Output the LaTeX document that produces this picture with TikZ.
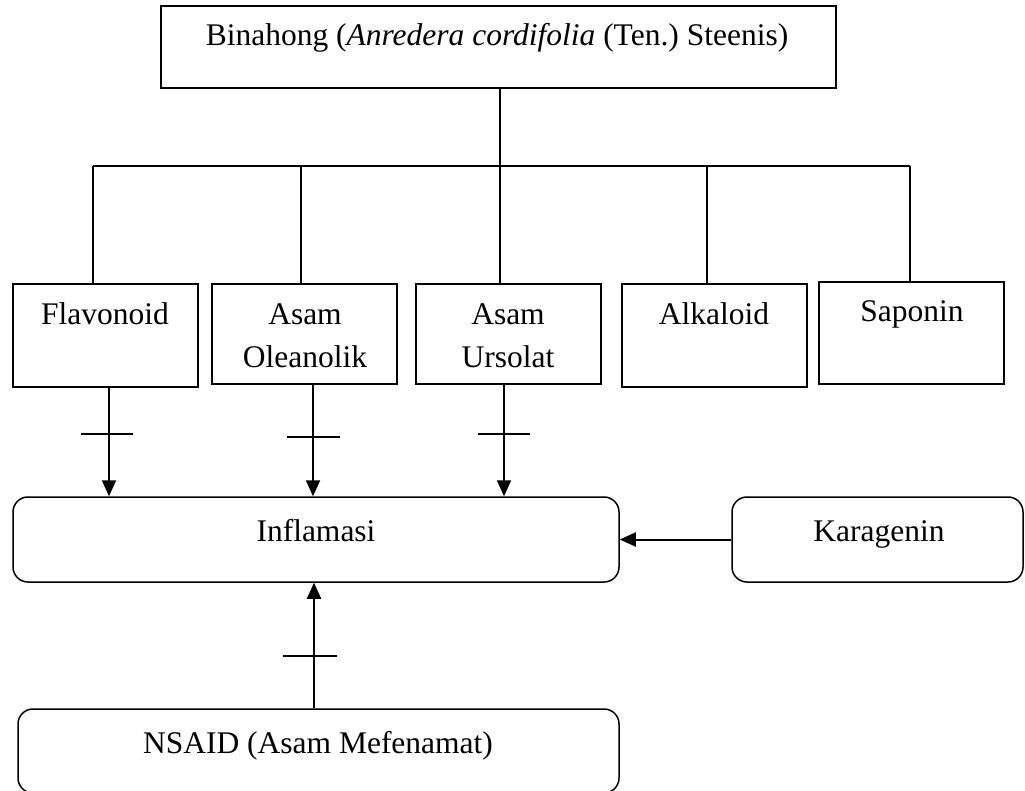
\documentclass[tikz,border=0pt]{standalone}
\usepackage{fontspec}
\setmainfont{Liberation Serif}
\usetikzlibrary{arrows.meta,calc}
\begin{document}
\frenchspacing
\begin{tikzpicture}[x=1pt,y=-1pt,
  every node/.style={font=\fontsize{31.5}{42}\selectfont},
  box/.style={draw,line width=1.5pt,rectangle,inner sep=0pt},
  rbox/.style={draw,line width=1.5pt,rectangle,rounded corners=15pt,inner sep=0pt},
  txt/.style={inner sep=0pt,anchor=base},
  conn/.style={line width=1.3pt},
  arr/.style={line width=2pt,-{Triangle[length=16pt,width=14pt]}},
  bar/.style={line width=1.5pt}]
\useasboundingbox (0,0) rectangle (1025,791);
% boxes
\node[box,minimum width=675pt,minimum height=82pt] (top) at (498.5,47) {};
\node[box,minimum width=185pt,minimum height=103pt] (flav) at (105.5,335.5) {};
\node[box,minimum width=185pt,minimum height=100pt] (olea) at (304.5,334) {};
\node[box,minimum width=185pt,minimum height=100pt] (urs) at (508.5,334) {};
\node[box,minimum width=185pt,minimum height=103pt] (alk) at (714.5,335.5) {};
\node[box,minimum width=185pt,minimum height=102pt] (sap) at (911.5,333) {};
\node[rbox,minimum width=606pt,minimum height=85pt] (infl) at (316,539.5) {};
\node[rbox,minimum width=291pt,minimum height=85pt] (kara) at (877.5,539.5) {};
\node[rbox,minimum width=601pt,minimum height=84pt] (nsaid) at (318.5,751) {};
% texts
\node[txt] (ttop) at (497,46) {Binahong (\textit{Anredera cordifolia} (Ten.) Steenis)};
\node[txt] (tflav) at (105,325) {Flavonoid};
\node[txt] (tolea1) at (305,325) {Asam};
\node[txt] (tolea2) at (305,367) {Oleanolik};
\node[txt] (turs1) at (508,325) {Asam};
\node[txt] (turs2) at (508,367) {Ursolat};
\node[txt] (talk) at (714,325) {Alkaloid};
\node[txt] (tsap) at (912,322) {Saponin};
\node[txt] (tinfl) at (316,541) {Inflamasi};
\node[txt] (tkara) at (879,541) {Karagenin};
\node[txt] (tnsaid) at (318,753) {NSAID (Asam Mefenamat)};
% tree connectors
\coordinate (bm) at (500,166);
\coordinate (b1) at (93,166);
\coordinate (b2) at (301,166);
\coordinate (b4) at (707,166);
\coordinate (b5) at (910,166);
\draw[conn] (top.south -| bm) -- (bm);
\draw[conn] (b1) -- (b5);
\draw[conn] (b1) -- (b1 |- flav.north);
\draw[conn] (b2) -- (b2 |- olea.north);
\draw[conn] (bm) -- (bm |- urs.north);
\draw[conn] (b4) -- (b4 |- alk.north);
\draw[conn] (b5) -- (b5 |- sap.north);
% inhibition arrows
\coordinate (a1) at (109,434);
\coordinate (a2) at (313,437);
\coordinate (a3) at (504,434);
\coordinate (a4) at (314,656);
\draw[arr] (a1 |- flav.south) -- (a1 |- infl.north);
\draw[arr] (a2 |- olea.south) -- (a2 |- infl.north);
\draw[arr] (a3 |- urs.south) -- (a3 |- infl.north);
\draw[arr] (a4 |- nsaid.north) -- (a4 |- infl.south);
\draw[bar] (a1) ++(-28,0) -- ++(52,0);
\draw[bar] (a2) ++(-26,0) -- ++(53,0);
\draw[bar] (a3) ++(-26,0) -- ++(52,0);
\draw[bar] (a4) ++(-31,0) -- ++(54,0);
% karagenin
\draw[arr] (kara.west) -- (infl.east);
\end{tikzpicture}
\end{document}
